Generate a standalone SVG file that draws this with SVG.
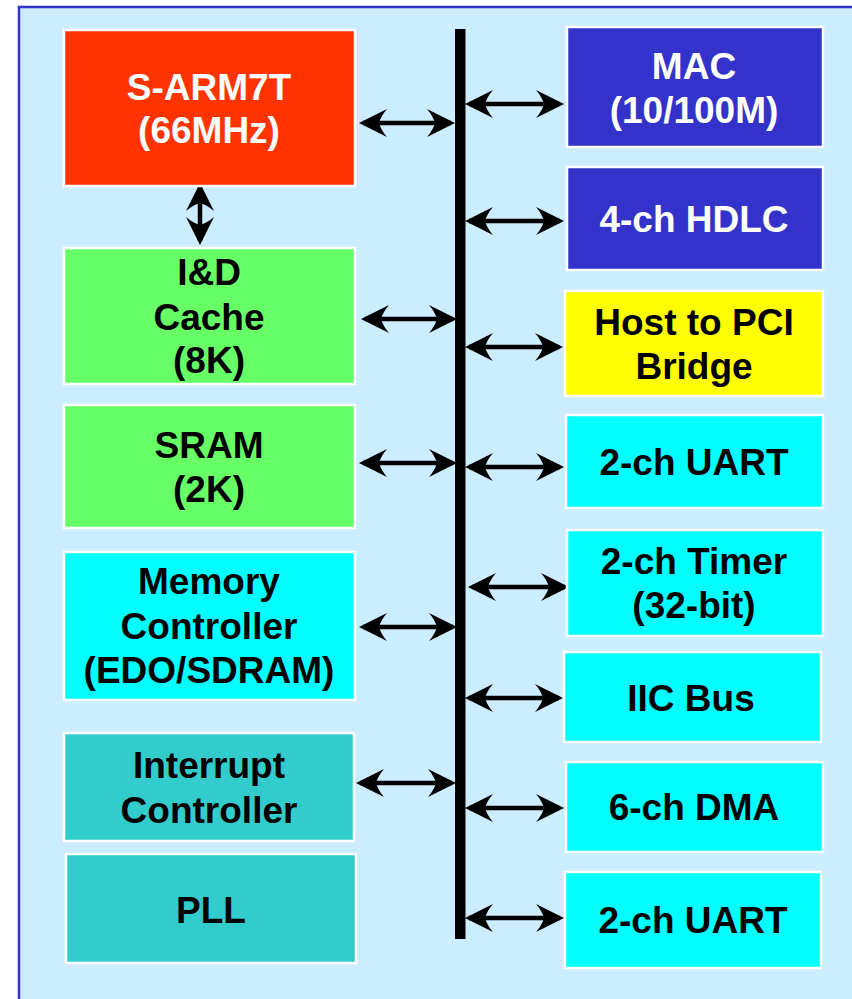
<svg xmlns="http://www.w3.org/2000/svg" width="852" height="999" viewBox="0 0 852 999">
  <style>
    .box { stroke: #ffffff; stroke-width: 2.5; }
    .t { font-family: "Liberation Sans", Arial, sans-serif; font-weight: bold; font-size: 37px; text-anchor: middle; fill: #000000; }
    .w { fill: #ffffff; }
    .conn { stroke: #000000; stroke-width: 4.5; fill: none; marker-start: url(#ah); marker-end: url(#ah); }
  </style>
  <defs>
    <marker id="ah" markerUnits="userSpaceOnUse" markerWidth="30" markerHeight="30" viewBox="0 0 30 30" refX="25" refY="15" orient="auto-start-reverse">
      <path d="M29,15 L1,1 Q7,8 9,15 Q7,22 1,29 Z" fill="#000000"/>
    </marker>
  </defs>
  <rect x="0" y="0" width="852" height="999" fill="#ffffff"/>
  <rect id="frame" x="19" y="7" width="900" height="1100" fill="#ccecff" stroke="#3333cc" stroke-width="2.5"/>

  <g id="connectors">
    <rect id="bus" x="455" y="29" width="10.5" height="910" fill="#000000"/>
    <line class="conn" x1="200" y1="187" x2="200" y2="241"/>
    <line class="conn" x1="363" y1="123" x2="451" y2="123"/>
    <line class="conn" x1="365" y1="319" x2="453" y2="319"/>
    <line class="conn" x1="363" y1="463" x2="453" y2="463"/>
    <line class="conn" x1="363" y1="627" x2="453" y2="627"/>
    <line class="conn" x1="360" y1="783" x2="452" y2="783"/>
    <line class="conn" x1="469" y1="104" x2="560" y2="104"/>
    <line class="conn" x1="469" y1="221" x2="560" y2="221"/>
    <line class="conn" x1="469" y1="347" x2="559" y2="347"/>
    <line class="conn" x1="469" y1="467" x2="560" y2="467"/>
    <line class="conn" x1="472" y1="587" x2="565" y2="587"/>
    <line class="conn" x1="469" y1="698" x2="559" y2="698"/>
    <line class="conn" x1="469" y1="808" x2="560" y2="808"/>
    <line class="conn" x1="469" y1="918" x2="560" y2="918"/>
  </g>

  <g id="cpu">
    <rect class="box" x="64" y="30" width="291" height="156" fill="#ff3300"/>
    <text class="t w" x="209" y="100">S-ARM7T</text>
    <text class="t w" x="209" y="143">(66MHz)</text>
  </g>
  <g id="cache">
    <rect class="box" x="64" y="248" width="291" height="136" fill="#66ff66"/>
    <text class="t" x="209" y="285">I&amp;D</text>
    <text class="t" x="209" y="330">Cache</text>
    <text class="t" x="209" y="373">(8K)</text>
  </g>
  <g id="sram">
    <rect class="box" x="64" y="405" width="291" height="123" fill="#66ff66"/>
    <text class="t" x="209" y="458">SRAM</text>
    <text class="t" x="209" y="502">(2K)</text>
  </g>
  <g id="memctrl">
    <rect class="box" x="64" y="552" width="291" height="148" fill="#00ffff"/>
    <text class="t" x="209" y="594">Memory</text>
    <text class="t" x="209" y="639">Controller</text>
    <text class="t" x="209" y="683">(EDO/SDRAM)</text>
  </g>
  <g id="intctrl">
    <rect class="box" x="64" y="733" width="290" height="108" fill="#33cccc"/>
    <text class="t" x="209" y="778">Interrupt</text>
    <text class="t" x="209" y="823">Controller</text>
  </g>
  <g id="pll">
    <rect class="box" x="66" y="854" width="290" height="109" fill="#33cccc"/>
    <text class="t" x="211" y="923">PLL</text>
  </g>

  <g id="mac">
    <rect class="box" x="567" y="27" width="256" height="120" fill="#3333cc"/>
    <text class="t w" x="694" y="79">MAC</text>
    <text class="t w" x="694" y="123">(10/100M)</text>
  </g>
  <g id="hdlc">
    <rect class="box" x="567" y="167" width="256" height="103" fill="#3333cc"/>
    <text class="t w" x="694" y="232">4-ch HDLC</text>
  </g>
  <g id="pci">
    <rect class="box" x="565" y="291" width="258" height="105" fill="#ffff00"/>
    <text class="t" x="694" y="335">Host to PCI</text>
    <text class="t" x="694" y="379">Bridge</text>
  </g>
  <g id="uart1">
    <rect class="box" x="566" y="415" width="257" height="93" fill="#00ffff"/>
    <text class="t" x="694" y="475">2-ch UART</text>
  </g>
  <g id="timer">
    <rect class="box" x="567" y="530" width="256" height="106" fill="#00ffff"/>
    <text class="t" x="694" y="574">2-ch Timer</text>
    <text class="t" x="694" y="618">(32-bit)</text>
  </g>
  <g id="iic">
    <rect class="box" x="564" y="652" width="257" height="90" fill="#00ffff"/>
    <text class="t" x="691" y="711">IIC Bus</text>
  </g>
  <g id="dma">
    <rect class="box" x="566" y="762" width="257" height="90" fill="#00ffff"/>
    <text class="t" x="694" y="820">6-ch DMA</text>
  </g>
  <g id="uart2">
    <rect class="box" x="565" y="872" width="256" height="96" fill="#00ffff"/>
    <text class="t" x="693" y="933">2-ch UART</text>
  </g>
</svg>
